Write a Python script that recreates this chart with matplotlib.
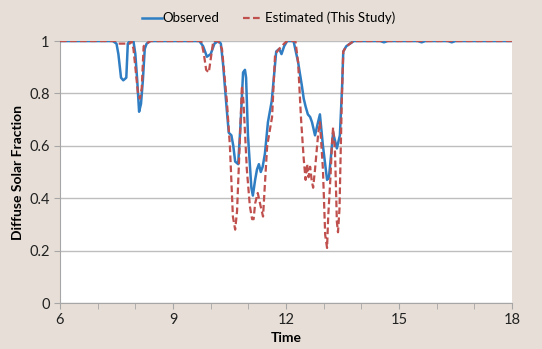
import matplotlib.pyplot as plt
from matplotlib.ticker import MultipleLocator

plt.rcParams['font.family'] = ['Lato', 'DejaVu Sans']

# observed diffuse fraction (time in hours, value)
obs_t = [6.0, 7.4, 7.5, 7.55, 7.62, 7.68, 7.76, 7.8, 7.85, 7.95, 8.0, 8.05, 8.1, 8.15,
         8.2, 8.25, 8.3, 8.4, 9.7, 9.8, 9.9, 10.0, 10.1, 10.2, 10.27, 10.33, 10.42,
         10.48, 10.55, 10.6, 10.65, 10.73, 10.8, 10.86, 10.91, 10.94, 10.99, 11.08,
         11.12, 11.18, 11.23, 11.28, 11.33, 11.38, 11.44, 11.52, 11.62, 11.74, 11.82,
         11.88, 11.95, 12.03, 12.2, 12.32, 12.42, 12.47, 12.52, 12.58, 12.64, 12.69,
         12.77, 12.85, 12.9, 12.98, 13.09, 13.14, 13.2, 13.25, 13.35, 13.43, 13.49,
         13.52, 13.6, 13.7, 13.8, 14.5, 14.6, 14.7, 15.5, 15.6, 15.7, 16.3, 16.4,
         16.5, 18.0]
obs_v = [1.0, 1.0, 0.99, 0.95, 0.86, 0.85, 0.86, 0.99, 1.0, 1.0, 0.95, 0.85, 0.73, 0.76,
         0.85, 0.97, 0.99, 1.0, 1.0, 0.98, 0.94, 0.95, 0.99, 1.0, 0.99, 0.91, 0.75,
         0.65, 0.64, 0.6, 0.54, 0.53, 0.7, 0.88, 0.89, 0.86, 0.64, 0.44,
         0.41, 0.47, 0.51, 0.53, 0.5, 0.52, 0.57, 0.69, 0.77, 0.96, 0.97,
         0.95, 0.98, 1.0, 1.0, 0.92, 0.83, 0.78, 0.75, 0.72, 0.71, 0.69,
         0.64, 0.69, 0.72, 0.6, 0.47, 0.48, 0.57, 0.65, 0.59, 0.64, 0.83,
         0.96, 0.98, 0.99, 1.0, 1.0, 0.995, 1.0, 1.0, 0.995, 1.0, 1.0, 0.995,
         1.0, 1.0]

# estimated diffuse fraction (this study)
est_t = [6.0, 7.5, 7.55, 7.85, 7.9, 7.95, 8.0, 8.07, 8.12, 8.17, 8.22, 8.3, 8.4, 9.75,
         9.82, 9.88, 9.95, 10.0, 10.07, 10.2, 10.3, 10.43, 10.51, 10.59, 10.65, 10.7,
         10.78, 10.83, 10.87, 10.96, 11.04, 11.1, 11.14, 11.18, 11.25, 11.31, 11.39,
         11.43, 11.5, 11.63, 11.71, 11.82, 11.95, 12.03, 12.25, 12.32, 12.4, 12.47,
         12.52, 12.56, 12.6, 12.64, 12.68, 12.72, 12.77, 12.85, 12.9, 12.98, 13.04,
         13.09, 13.12, 13.18, 13.22, 13.25, 13.3, 13.35, 13.38, 13.42, 13.48, 13.52,
         13.6, 13.8, 18.0]
est_v = [1.0, 1.0, 0.99, 0.99, 1.0, 0.97, 0.9, 0.8, 0.78, 0.82, 0.98, 0.99, 1.0, 1.0,
         0.95, 0.89, 0.88, 0.93, 1.0, 1.0, 0.97, 0.77, 0.6, 0.33, 0.28, 0.35,
         0.64, 0.83, 0.77, 0.51, 0.37, 0.32, 0.32, 0.38, 0.42, 0.38, 0.33,
         0.43, 0.6, 0.71, 0.95, 0.97, 0.99, 1.0, 1.0, 0.92, 0.7, 0.55,
         0.47, 0.53, 0.48, 0.52, 0.47, 0.44, 0.51, 0.64, 0.69, 0.51, 0.26,
         0.21, 0.33, 0.48, 0.61, 0.67, 0.58, 0.31, 0.27, 0.36, 0.77, 0.96,
         0.98, 1.0, 1.0]

y_ticks = [0, 0.2, 0.4, 0.6, 0.8, 1.0]
y_labels = ['0', '0.2', '0.4', '0.6', '0.8', '1']

bg = '#E7DFD7'
fig = plt.figure(figsize=(5.42, 3.49), dpi=100, facecolor=bg)
ax = fig.add_axes([0.1107, 0.1318, 0.834, 0.7507])
ax.set_facecolor('white')

ax.plot(obs_t, obs_v, color='#2F7DC3', lw=1.8, label='Observed', zorder=3)
ax.plot(est_t, est_v, color='#C0504D', lw=1.6, ls=(0, (3, 1.5)),
        label='Estimated (This Study)', zorder=4)

ax.set_xlim(6, 18)
ax.set_ylim(0, 1)
ax.xaxis.set_major_locator(MultipleLocator(3))
ax.xaxis.set_minor_locator(MultipleLocator(1))
ax.set_yticks(y_ticks, y_labels)
ax.grid(axis='y', color='#BEBEBE', lw=1)
ax.set_axisbelow(True)

for s in ['top', 'right']:
    ax.spines[s].set_visible(False)
for s in ['left', 'bottom']:
    ax.spines[s].set_color('#A6A6A6')
ax.tick_params(which='both', direction='out', color='#A6A6A6', labelsize=10.5,
               labelcolor='#222222')
ax.tick_params(which='major', length=4)
ax.tick_params(which='minor', length=4)

ax.set_xlabel('Time', fontsize=10, fontweight='bold', labelpad=3)
ax.set_ylabel('Diffuse Solar Fraction', fontsize=10, fontweight='bold', labelpad=4)

fig.legend(loc='upper center', bbox_to_anchor=(0.495, 1.0), ncol=2, frameon=False,
           fontsize=9.5, handlelength=1.5, columnspacing=1.8, handletextpad=0.1)

fig.savefig('out.png', dpi=100, facecolor=bg)
